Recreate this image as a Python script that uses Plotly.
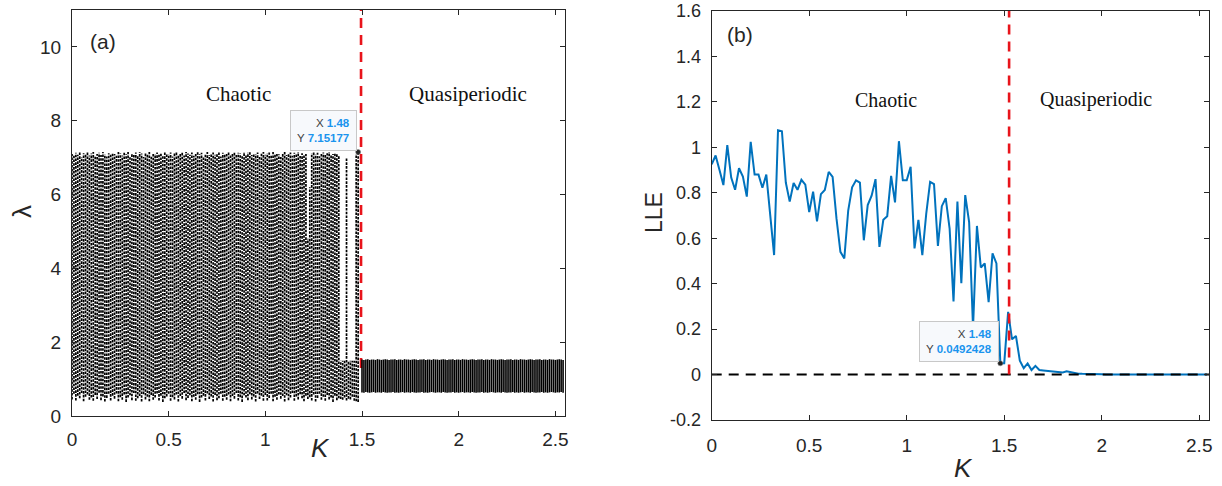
import plotly.graph_objects as go

# ---------------- data: panel (a) bifurcation diagram ----------------
chaos_K = [round(0.01 * i, 2) for i in range(149)]          # K = 0.00 .. 1.48
chaos_top = [
    7.10, 7.05, 7.13, 7.08, 7.15, 7.02, 7.12, 7.09, 7.14, 7.06,
    7.11, 7.15, 7.04, 7.10, 7.13, 7.07, 7.15, 7.09, 7.03, 7.12,
    7.08, 7.14, 7.10, 7.05, 7.15, 7.11, 7.06, 7.13, 7.09, 7.15,
    7.04, 7.12, 7.10, 7.14, 7.07, 7.15, 7.11, 7.02, 7.13, 7.09,
    7.15, 7.06, 7.12, 7.10, 7.14, 7.08, 7.13, 7.05, 7.15, 7.11,
    7.09, 7.14, 7.03, 7.12, 7.15, 7.07, 7.10, 7.13, 7.06, 7.15,
    7.11, 7.08, 7.14, 7.05, 7.12, 7.15, 7.09, 7.13, 7.04, 7.10,
    7.15, 7.07, 7.12, 7.14, 7.08, 7.11, 7.15, 7.03, 7.13, 7.09,
    7.12, 7.15, 7.06, 7.10, 7.14, 7.08, 7.13, 7.11, 7.05, 7.15,
    7.09, 7.13, 7.15, 7.07, 7.12, 7.10, 7.14, 7.04, 7.11, 7.15,
    7.08, 7.12, 7.14, 7.06, 7.15, 7.10, 7.13, 7.09, 7.02, 7.12,
    7.15, 7.07, 7.11, 7.14, 7.05, 7.13, 7.10, 7.15, 7.08, 7.12,
    7.06, 7.10, 4.80, 6.20, 7.12, 7.15, 7.09, 7.13, 7.04, 7.11,
    7.14, 7.08, 7.12, 7.15, 7.06, 7.10, 7.13, 7.09, 7.05, 1.50,
    1.50, 1.50, 7.00, 1.50, 1.50, 1.50, 1.50, 7.10, 7.15177,
]
chaos_bot = [
    0.45, 0.60, 0.42, 0.55, 0.48, 0.62, 0.40, 0.52, 0.58, 0.44,
    0.50, 0.41, 0.57, 0.46, 0.63, 0.43, 0.53, 0.39, 0.49, 0.60,
    0.42, 0.55, 0.47, 0.61, 0.40, 0.51, 0.44, 0.58, 0.38, 0.50,
    0.56, 0.43, 0.62, 0.41, 0.48, 0.54, 0.39, 0.59, 0.45, 0.52,
    0.40, 0.57, 0.44, 0.50, 0.61, 0.42, 0.55, 0.38, 0.48, 0.53,
    0.60, 0.41, 0.51, 0.45, 0.58, 0.39, 0.54, 0.47, 0.62, 0.43,
    0.49, 0.56, 0.40, 0.52, 0.44, 0.59, 0.38, 0.50, 0.55, 0.42,
    0.61, 0.46, 0.53, 0.39, 0.57, 0.43, 0.48, 0.60, 0.41, 0.52,
    0.44, 0.58, 0.40, 0.54, 0.47, 0.62, 0.42, 0.51, 0.38, 0.56,
    0.50, 0.43, 0.59, 0.45, 0.53, 0.39, 0.61, 0.46, 0.55, 0.41,
    0.57, 0.42, 0.49, 0.60, 0.40, 0.52, 0.44, 0.58, 0.47, 0.54,
    0.39, 0.56, 0.43, 0.50, 0.62, 0.41, 0.53, 0.45, 0.59, 0.48,
    0.40, 0.55, 0.46, 0.51, 0.42, 0.58, 0.39, 0.49, 0.60, 0.44,
    0.52, 0.41, 0.57, 0.45, 0.50, 0.38, 0.55, 0.43, 0.48, 0.46,
    0.44, 0.50, 0.42, 0.47, 0.45, 0.52, 0.41, 0.40, 0.38,
]

quasi_K = [round(1.50 + 0.01 * i, 2) for i in range(105)]    # K = 1.50 .. 2.54
quasi_top = [
    1.53, 1.52, 1.53, 1.54, 1.52, 1.53, 1.53, 1.52, 1.54, 1.53,
    1.52, 1.53, 1.54, 1.53, 1.52, 1.53, 1.53, 1.54, 1.52, 1.53,
    1.53, 1.52, 1.54, 1.53, 1.53, 1.52, 1.53, 1.54, 1.53, 1.52,
    1.53, 1.53, 1.54, 1.52, 1.53, 1.53, 1.52, 1.54, 1.53, 1.53,
    1.52, 1.53, 1.54, 1.53, 1.52, 1.53, 1.53, 1.54, 1.52, 1.53,
    1.53, 1.52, 1.54, 1.53, 1.53, 1.52, 1.53, 1.54, 1.53, 1.52,
    1.53, 1.53, 1.54, 1.52, 1.53, 1.53, 1.52, 1.54, 1.53, 1.53,
    1.52, 1.53, 1.54, 1.53, 1.52, 1.53, 1.53, 1.54, 1.52, 1.53,
    1.53, 1.52, 1.54, 1.53, 1.53, 1.52, 1.53, 1.54, 1.53, 1.52,
    1.53, 1.53, 1.54, 1.52, 1.53, 1.53, 1.52, 1.54, 1.53, 1.53,
    1.52, 1.53, 1.54, 1.53, 1.52,
]
quasi_bot = [
    0.64, 0.63, 0.65, 0.64, 0.63, 0.64, 0.65, 0.63, 0.64, 0.64,
    0.63, 0.65, 0.64, 0.63, 0.64, 0.64, 0.65, 0.63, 0.64, 0.63,
    0.64, 0.65, 0.63, 0.64, 0.64, 0.63, 0.65, 0.64, 0.63, 0.64,
    0.64, 0.65, 0.63, 0.64, 0.63, 0.64, 0.65, 0.64, 0.63, 0.64,
    0.64, 0.63, 0.65, 0.64, 0.63, 0.64, 0.64, 0.65, 0.63, 0.64,
    0.63, 0.64, 0.65, 0.63, 0.64, 0.64, 0.63, 0.65, 0.64, 0.63,
    0.64, 0.64, 0.65, 0.63, 0.64, 0.63, 0.64, 0.65, 0.64, 0.63,
    0.64, 0.64, 0.63, 0.65, 0.64, 0.63, 0.64, 0.64, 0.65, 0.63,
    0.64, 0.63, 0.64, 0.65, 0.63, 0.64, 0.64, 0.63, 0.65, 0.64,
    0.63, 0.64, 0.64, 0.65, 0.63, 0.64, 0.63, 0.64, 0.65, 0.64,
    0.63, 0.64, 0.64, 0.65, 0.63,
]

# ---------------- data: panel (b) largest Lyapunov exponent ----------------
lle_K = [round(0.02 * i, 2) for i in range(128)]            # K = 0.00 .. 2.54
lle_val = [
    0.925, 0.964, 0.90, 0.834, 1.01, 0.867, 0.813, 0.908, 0.871, 0.783,
    1.024, 0.88, 0.88, 0.822, 0.88, 0.715, 0.526, 1.075, 1.071, 0.845,
    0.761, 0.843, 0.813, 0.857, 0.836, 0.715, 0.805, 0.674, 0.794, 0.812,
    0.892, 0.870, 0.686, 0.540, 0.511, 0.722, 0.824, 0.855, 0.845, 0.591,
    0.746, 0.787, 0.860, 0.562, 0.681, 0.697, 0.874, 0.758, 1.027, 0.855,
    0.855, 0.914, 0.555, 0.681, 0.526, 0.707, 0.848, 0.838, 0.566, 0.741,
    0.776, 0.642, 0.322, 0.761, 0.402, 0.790, 0.671, 0.206, 0.654, 0.471,
    0.489, 0.319, 0.533, 0.489, 0.0492428,
    0.050, 0.276, 0.155, 0.170, 0.061, 0.028, 0.049, 0.020, 0.038, 0.020,
    0.018, 0.016, 0.015, 0.013, 0.010, 0.009, 0.014, 0.010, 0.006, 0.004,
    0.003, 0.002, 0.002, 0.001, 0.001,
    0.0008, 0.0006, 0.0005, 0.0004, 0.0004, 0.0003, 0.0003, 0.0002, 0.0002, 0.0002,
    0.0001, 0.0001, 0.0001, 0.0001, 0.0001, 0.0001, 0.0001, 0.0001, 0.0001, 0.0001,
    0.0001, 0.0001, 0.0001, 0.0001, 0.0001, 0.0001, 0.0001, 0.0001,
]

# transition markers / data tips
K_trans_a = 1.495
K_trans_b = 1.525
tip_a = (1.48, 7.15177)
tip_b = (1.48, 0.0492428)
region_labels = ["Chaotic", "Quasiperiodic"]

x_ticks = [0, 0.5, 1, 1.5, 2, 2.5]
x_tick_text = ["0", "0.5", "1", "1.5", "2", "2.5"]
ya_ticks = [0, 2, 4, 6, 8, 10]
yb_ticks = [-0.2, 0, 0.2, 0.4, 0.6, 0.8, 1.0, 1.2, 1.4, 1.6]
yb_tick_text = ["-0.2", "0", "0.2", "0.4", "0.6", "0.8", "1", "1.2", "1.4", "1.6"]

W, H = 1222, 486
SANS = "Liberation Sans, Arial, Helvetica, sans-serif"
SERIF = "Liberation Serif, Times New Roman, serif"
AX = "#262626"
BLUE = "#0072BD"
TIPBLUE = "#1A94EE"


def columns(xs, lo, hi):
    X, Y = [], []
    for x, a, b in zip(xs, lo, hi):
        X += [x, x, None]
        Y += [a, b, None]
    return X, Y


fig = go.Figure()

# red transition line (a) under the dots
fig.add_trace(go.Scatter(x=[K_trans_a, K_trans_a], y=[1.3, 11], mode="lines",
                         line=dict(color="#E8141B", width=2.6, dash="10px,7px"),
                         xaxis="x", yaxis="y", hoverinfo="skip"))

cx, cy = columns(chaos_K, chaos_bot, chaos_top)
fig.add_trace(go.Scatter(x=cx, y=cy, mode="lines",
                         line=dict(color="black", width=1.7, dash="2.6px,1.2px"),
                         xaxis="x", yaxis="y", hoverinfo="skip"))
qx, qy = columns(quasi_K, quasi_bot, quasi_top)
fig.add_trace(go.Scatter(x=qx, y=qy, mode="lines",
                         line=dict(color="black", width=1.6),
                         xaxis="x", yaxis="y", hoverinfo="skip"))
fig.add_trace(go.Scatter(x=[tip_a[0]], y=[tip_a[1]], mode="markers",
                         marker=dict(color="#222", size=5, line=dict(color="#888", width=0.5)),
                         xaxis="x", yaxis="y", hoverinfo="skip"))

# panel (b)
fig.add_trace(go.Scatter(x=lle_K, y=lle_val, mode="lines",
                         line=dict(color=BLUE, width=2),
                         xaxis="x2", yaxis="y2", hoverinfo="skip"))
fig.add_trace(go.Scatter(x=[0, 2.55], y=[0, 0], mode="lines",
                         line=dict(color="black", width=2, dash="10px,7px"),
                         xaxis="x2", yaxis="y2", hoverinfo="skip"))
fig.add_trace(go.Scatter(x=[K_trans_b, K_trans_b], y=[0, 1.6], mode="lines",
                         line=dict(color="#E8141B", width=2.6, dash="10px,7px"),
                         xaxis="x2", yaxis="y2", hoverinfo="skip"))
fig.add_trace(go.Scatter(x=[tip_b[0]], y=[tip_b[1]], mode="markers",
                         marker=dict(color="#222", size=5, line=dict(color="#888", width=0.5)),
                         xaxis="x2", yaxis="y2", hoverinfo="skip"))

axis_common = dict(showline=True, linecolor=AX, linewidth=1, mirror="allticks",
                   ticks="inside", ticklen=5, tickcolor=AX, tickwidth=1,
                   showgrid=False, zeroline=False, automargin=False,
                   ticklabeloverflow="allow")
font_a = dict(tickfont=dict(family=SANS, size=19, color=AX))
font_b = dict(tickfont=dict(family=SANS, size=18, color=AX))

fig.update_layout(
    template="none",
    width=W, height=H, margin=dict(l=0, r=0, t=0, b=0, pad=0),
    font=dict(family=SANS, color=AX),
    paper_bgcolor="white", plot_bgcolor="white", showlegend=False,
    xaxis=dict(domain=[72 / W, 565 / W], range=[0, 2.55], tickvals=x_ticks,
               ticktext=x_tick_text, anchor="y", ticklabelstandoff=6, **axis_common, **font_a),
    yaxis=dict(domain=[(H - 416) / H, (H - 10) / H], range=[0, 11], tickvals=ya_ticks,
               anchor="x", ticklabelstandoff=6, **axis_common, **font_a),
    xaxis2=dict(domain=[711.7 / W, 1209 / W], range=[0, 2.55], tickvals=x_ticks,
                ticktext=x_tick_text, anchor="y2", ticklabelstandoff=8, **axis_common, **font_a),
    yaxis2=dict(domain=[(H - 420) / H, (H - 11) / H], range=[-0.2, 1.6], tickvals=yb_ticks,
                ticktext=yb_tick_text, anchor="x2", ticklabelstandoff=6, **axis_common, **font_b),
)


def txt(x, y, s, size, family=SANS, angle=0, color=AX):
    fig.add_annotation(x=x / W, y=1 - y / H, xref="paper", yref="paper", text=s,
                       showarrow=False, xanchor="center", yanchor="middle",
                       textangle=angle, font=dict(family=family, size=size, color=color))


txt(103, 42, "(a)", 21)
txt(740, 35, "(b)", 21)
txt(238, 94, region_labels[0], 21, SERIF, color="#111")
txt(468, 94, region_labels[1], 21, SERIF, color="#111")
txt(886, 100, region_labels[0], 20, SERIF, color="#111")
txt(1096, 100, region_labels[1], 20, SERIF, color="#111")
txt(22, 212, "λ", 26, angle=-90)
txt(654, 213, "LLE", 23, angle=-90)
txt(320, 448, "<i>K</i>", 26)
txt(963, 468, "<i>K</i>", 26)


def tip(xref, yref, pt):
    s = (f"X <b><span style='color:{TIPBLUE}'>{pt[0]:g}</span></b><br>"
         f"Y <b><span style='color:{TIPBLUE}'>{pt[1]:g}</span></b>")
    fig.add_annotation(x=pt[0], y=pt[1], xref=xref, yref=yref, text=s, showarrow=False,
                       xanchor="right", yanchor="bottom", align="right", xshift=-1, yshift=1,
                       bgcolor="#F7F9FC", bordercolor="#C8C8C8", borderwidth=1, borderpad=6,
                       font=dict(family=SANS, size=11.5, color="#404040"))


tip("x", "y", tip_a)
tip("x2", "y2", tip_b)

fig.write_html("out.html")
